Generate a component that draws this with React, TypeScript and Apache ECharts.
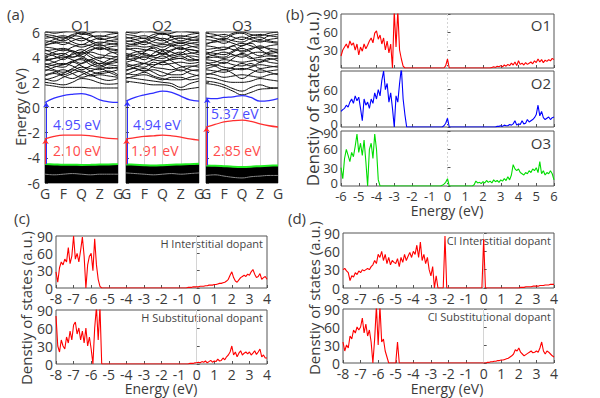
import React, { useEffect, useRef } from "react";
import * as echarts from "echarts";

// ---------- Panel (a): band structures ----------
const kLabels = ["G", "F", "Q", "Z", "G"];
const kPath = [0, 0.5, 1, 1.5, 2, 2.5, 3, 3.5, 4];

const bandsO1 = [
  [1.8, 1.7, 1.6, 1.6, 1.6, 1.55, 1.55, 1.55, 1.55],
  [2.0, 1.9, 1.8, 2.0, 2.3, 2.2, 1.95, 1.85, 1.9],
  [2.3, 2.1, 2.4, 2.7, 2.9, 2.6, 2.3, 2.15, 2.3],
  [2.6, 2.8, 3.0, 2.7, 2.4, 2.6, 2.8, 2.9, 2.6],
  [3.0, 2.9, 2.6, 2.9, 3.2, 3.1, 3.0, 3.2, 3.1],
  [3.2, 3.4, 3.5, 3.3, 3.0, 3.3, 3.5, 3.4, 3.3],
  [3.5, 3.3, 3.2, 3.6, 3.9, 3.6, 3.3, 3.6, 3.7],
  [3.8, 3.9, 4.0, 3.8, 3.5, 3.8, 4.0, 3.9, 3.8],
  [4.0, 4.2, 4.3, 4.0, 4.2, 4.4, 4.2, 4.1, 4.0],
  [4.3, 4.1, 3.8, 4.3, 4.6, 4.2, 3.9, 4.3, 4.4],
  [4.5, 4.6, 4.7, 4.5, 4.3, 4.6, 4.7, 4.6, 4.5],
  [4.8, 4.7, 4.5, 4.8, 5.0, 4.9, 4.6, 4.8, 4.9],
  [5.0, 5.1, 5.2, 5.0, 4.8, 5.0, 5.2, 5.1, 5.0],
  [5.3, 5.2, 5.0, 5.3, 5.5, 5.3, 5.1, 5.3, 5.4],
  [5.5, 5.6, 5.7, 5.5, 5.3, 5.6, 5.7, 5.6, 5.5],
  [5.8, 5.7, 5.5, 5.8, 5.9, 5.7, 5.6, 5.8, 5.9],
  [6.1, 5.9, 6.0, 6.1, 5.8, 5.9, 6.1, 6.0, 5.9],
  [2.9, 3.2, 3.4, 3.6, 3.3, 2.9, 2.7, 2.8, 3.0],
  [4.1, 4.4, 4.6, 4.4, 4.0, 4.5, 4.8, 4.5, 4.2],
  [3.4, 3.6, 3.9, 4.2, 4.4, 4.0, 3.7, 3.5, 3.6],
  [2.5, 2.7, 2.5, 2.3, 2.6, 2.9, 3.1, 2.8, 2.5],
  [3.3, 3.0, 2.8, 3.1, 3.5, 3.8, 3.4, 3.1, 3.2],
  [3.7, 3.9, 4.2, 4.5, 4.1, 3.7, 3.5, 3.8, 4.1],
  [4.6, 4.3, 4.1, 4.0, 4.4, 4.8, 5.0, 4.7, 4.6],
  [5.1, 5.4, 5.6, 5.2, 5.0, 5.3, 5.5, 5.3, 5.2],
  [5.7, 5.5, 5.3, 5.6, 6.0, 5.8, 5.4, 5.5, 5.7],
  [4.9, 5.2, 5.4, 5.7, 5.6, 5.2, 4.9, 5.0, 5.1],
  [3.9, 3.6, 3.4, 3.7, 3.8, 3.4, 3.2, 3.5, 3.9],
  [2.2, 2.4, 2.7, 3.0, 2.8, 2.5, 2.6, 2.5, 2.4],
];
const bandsO2 = [
  [2.1, 2.0, 1.9, 1.8, 1.8, 1.7, 1.4, 1.5, 1.6],
  [2.4, 2.3, 2.2, 2.1, 2.0, 1.9, 1.6, 1.9, 2.1],
  [2.7, 2.6, 2.8, 2.5, 2.3, 2.2, 2.2, 2.4, 2.6],
  [3.0, 3.1, 2.9, 3.0, 2.8, 2.6, 2.6, 2.9, 3.0],
  [3.2, 3.4, 3.5, 3.2, 3.1, 3.0, 3.2, 3.3, 3.2],
  [3.5, 3.3, 3.2, 3.6, 3.4, 3.5, 3.6, 3.5, 3.6],
  [3.8, 3.9, 4.0, 3.8, 3.7, 3.8, 3.9, 3.7, 3.8],
  [4.0, 4.2, 4.3, 4.1, 4.3, 4.0, 3.9, 4.1, 4.0],
  [4.3, 4.1, 3.8, 4.3, 4.6, 4.4, 4.2, 4.3, 4.4],
  [4.6, 4.7, 4.6, 4.5, 4.3, 4.6, 4.7, 4.6, 4.5],
  [4.8, 4.9, 4.8, 4.9, 5.0, 4.9, 4.6, 4.8, 4.9],
  [5.1, 5.0, 5.2, 5.0, 4.8, 5.1, 5.2, 5.1, 5.0],
  [5.3, 5.2, 5.0, 5.3, 5.5, 5.3, 5.1, 5.3, 5.4],
  [5.5, 5.6, 5.7, 5.5, 5.3, 5.6, 5.7, 5.6, 5.5],
  [5.8, 5.7, 5.5, 5.8, 5.9, 5.7, 5.6, 5.8, 5.9],
  [6.0, 5.9, 6.1, 6.0, 5.8, 5.9, 6.1, 6.0, 5.9],
  [2.9, 3.2, 3.5, 3.8, 4.1, 3.7, 3.3, 3.0, 2.9],
  [4.1, 4.4, 4.5, 4.7, 4.2, 4.5, 4.8, 4.4, 4.2],
  [3.6, 3.8, 4.1, 4.0, 3.9, 4.2, 4.4, 4.0, 3.7],
  [2.6, 2.9, 3.1, 2.8, 2.5, 2.8, 3.0, 2.7, 2.5],
  [3.4, 3.1, 2.9, 3.3, 3.6, 3.3, 2.9, 3.2, 3.4],
  [4.2, 4.0, 4.4, 4.8, 4.5, 4.1, 4.3, 4.6, 4.4],
  [4.7, 4.5, 4.2, 4.1, 4.5, 4.9, 5.1, 4.9, 4.7],
  [5.2, 5.4, 5.5, 5.2, 5.1, 5.4, 5.5, 5.4, 5.3],
  [5.6, 5.4, 5.2, 5.6, 5.9, 5.6, 5.3, 5.5, 5.7],
  [3.9, 3.7, 3.5, 3.4, 3.6, 3.9, 4.1, 3.8, 3.8],
  [2.3, 2.5, 2.6, 2.4, 2.2, 2.4, 2.4, 2.2, 2.3],
  [4.9, 5.1, 5.3, 5.6, 5.4, 5.0, 4.9, 5.1, 5.2],
];
const bandsO3 = [
  [1.9, 1.8, 1.6, 1.3, 1.0, 1.2, 1.45, 1.5, 1.55],
  [2.1, 2.0, 1.8, 1.5, 1.3, 1.6, 1.8, 1.6, 1.55],
  [2.4, 2.3, 2.1, 2.0, 2.0, 2.1, 2.3, 2.2, 2.1],
  [2.7, 2.6, 2.4, 2.5, 2.6, 2.5, 2.4, 2.6, 2.7],
  [3.0, 2.9, 2.8, 3.0, 3.1, 3.0, 2.8, 2.9, 3.0],
  [3.3, 3.4, 3.2, 3.1, 3.0, 3.2, 3.4, 3.3, 3.2],
  [3.5, 3.6, 3.8, 3.7, 3.6, 3.7, 3.8, 3.6, 3.5],
  [3.8, 3.7, 3.5, 3.9, 4.3, 4.0, 3.6, 3.8, 3.9],
  [4.0, 4.2, 4.4, 4.2, 4.0, 4.3, 4.4, 4.2, 4.1],
  [4.3, 4.1, 4.0, 4.4, 4.7, 4.4, 4.1, 4.4, 4.5],
  [4.6, 4.7, 4.8, 4.6, 4.5, 4.7, 4.8, 4.7, 4.6],
  [4.9, 4.8, 4.6, 4.9, 5.1, 4.9, 4.7, 4.9, 5.0],
  [5.1, 5.2, 5.3, 5.1, 4.9, 5.2, 5.3, 5.2, 5.1],
  [5.4, 5.3, 5.1, 5.4, 5.6, 5.4, 5.2, 5.4, 5.5],
  [5.6, 5.7, 5.8, 5.6, 5.4, 5.7, 5.8, 5.7, 5.6],
  [5.9, 5.8, 5.6, 5.9, 6.0, 5.8, 5.7, 5.9, 6.0],
  [3.1, 3.3, 3.6, 3.4, 3.3, 3.5, 3.1, 3.2, 3.3],
  [4.2, 4.5, 4.6, 4.9, 4.4, 4.6, 4.9, 4.6, 4.3],
  [2.6, 2.8, 3.0, 2.7, 2.3, 2.7, 3.0, 2.8, 2.6],
  [3.6, 3.3, 3.0, 3.2, 3.5, 3.3, 3.6, 3.9, 3.7],
  [4.4, 4.3, 4.2, 4.5, 4.9, 5.1, 4.6, 4.3, 4.4],
  [5.0, 5.3, 5.5, 5.3, 5.2, 5.5, 5.6, 5.3, 5.2],
  [5.7, 5.5, 5.4, 5.8, 5.9, 5.6, 5.4, 5.7, 5.8],
  [3.9, 4.0, 3.9, 4.1, 4.2, 3.9, 4.0, 4.1, 4.0],
];
const vbmO1 = [-4.5, -4.52, -4.55, -4.55, -4.56, -4.55, -4.53, -4.52, -4.5];
const vbmO2 = [-4.52, -4.55, -4.58, -4.6, -4.58, -4.55, -4.52, -4.5, -4.48];
const vbmO3 = [-4.6, -4.62, -4.66, -4.7, -4.72, -4.7, -4.66, -4.63, -4.6];
const innerVbO1 = [-5.3, -5.35, -5.3, -5.25, -5.3, -5.35, -5.3, -5.3, -5.3];
const innerVbO2 = [-5.2, -5.25, -5.3, -5.35, -5.3, -5.25, -5.3, -5.25, -5.2];
const innerVbO3 = [-5.4, -5.35, -5.45, -5.55, -5.6, -5.5, -5.45, -5.4, -5.4];
const blueO1 = [0.4, 0.75, 0.95, 1.05, 1.1, 0.95, 0.6, 0.45, 0.4];
const blueO2 = [0.5, 0.8, 1.0, 1.15, 1.3, 1.2, 0.9, 0.6, 0.5];
const blueO3 = [0.75, 0.7, 0.8, 0.85, 0.95, 0.8, 0.5, 0.55, 0.7];
const redO1 = [-2.5, -2.3, -2.2, -2.2, -2.2, -2.25, -2.35, -2.45, -2.5];
const redO2 = [-2.5, -2.4, -2.3, -2.25, -2.2, -2.25, -2.35, -2.5, -2.6];
const redO3 = [-1.55, -1.35, -1.15, -1.05, -1.0, -1.1, -1.3, -1.45, -1.55];
const gapBlue = ["4.95 eV", "4.94 eV", "5.37 eV"];
const gapRed = ["2.10 eV", "1.91 eV", "2.85 eV"];
const structNames = ["O1", "O2", "O3"];

// ---------- Panel (b): DOS, E from -6 to 6 step 0.1 ----------
const dosO1 = [
  20, 30, 35, 40, 33, 45, 38, 42, 30, 40,
  22, 35, 28, 40, 32, 38, 45, 50, 42, 58,
  62, 48, 55, 40, 50, 30, 45, 25, 40, 0,
  95, 35, 95, 30, 15, 3, 0, 0, 0, 0,
  0, 0, 0, 0, 0, 0, 0, 0, 0, 0,
  0, 0, 0, 0, 0, 0, 0, 0, 0, 4,
  15, 0, 0, 0, 0, 0, 0, 0, 0, 0,
  0, 0, 0, 0, 0, 0, 0, 0, 0, 0,
  0, 0, 0, 0, 0, 1, 2, 1, 3, 2,
  4, 2, 5, 3, 6, 4, 8, 5, 10, 4,
  12, 6, 8, 5, 9, 6, 8, 10, 7, 12,
  9, 15, 10, 14, 9, 13, 11, 14, 12, 16,
  14,
];
const dosO2 = [
  25, 28, 30, 35, 32, 40, 45, 38, 50, 42,
  48, 30, 10, 45, 35, 40, 30, 45, 38, 55,
  45, 60, 50, 75, 90, 60, 70, 40, 55, 30,
  0, 50, 40, 70, 95, 45, 20, 0, 0, 0,
  0, 0, 0, 0, 0, 0, 0, 0, 0, 0,
  0, 0, 0, 0, 0, 0, 0, 0, 2, 6,
  14, 0, 0, 0, 0, 0, 0, 0, 0, 0,
  0, 0, 0, 0, 0, 0, 0, 0, 0, 0,
  0, 0, 0, 0, 0, 0, 0, 0, 1, 1,
  2, 1, 3, 2, 2, 4, 3, 5, 10, 3,
  5, 4, 10, 5, 6, 12, 8, 10, 12, 15,
  20, 35, 18, 25, 15, 12, 14, 16, 12, 15,
  16,
];
const dosO3 = [
  30, 12, 45, 60, 50, 40, 55, 48, 65, 85,
  55, 70, 50, 75, 40, 0, 60, 70, 45, 85,
  60, 10, 0, 0, 0, 0, 0, 0, 0, 0,
  0, 0, 0, 0, 0, 0, 0, 0, 0, 0,
  0, 0, 0, 0, 0, 0, 0, 0, 0, 0,
  0, 0, 0, 0, 0, 0, 0, 1, 3, 6,
  12, 0, 0, 0, 0, 0, 0, 0, 0, 0,
  0, 0, 0, 0, 0, 2, 8, 5, 6, 4,
  7, 5, 9, 6, 8, 5, 10, 7, 9, 6,
  10, 8, 12, 9, 15, 10, 18, 35, 28, 25,
  28, 22, 20, 18, 22, 20, 25, 22, 28, 25,
  30, 22, 40, 20, 25, 18, 22, 20, 25, 20,
  10,
];

// ---------- Panels (c), (d): DOS, E from -8 to 4 step 0.1 ----------
const dosHInt = [
  28, 10, 35, 45, 40, 50, 45, 70, 42, 55,
  90, 50, 60, 45, 65, 88, 55, 0, 40, 55,
  60, 30, 85, 40, 15, 3, 0, 0, 0, 0,
  0, 0, 0, 0, 0, 0, 0, 0, 0, 0,
  0, 0, 0, 0, 0, 0, 0, 0, 0, 0,
  0, 0, 0, 0, 0, 0, 0, 0, 0, 0,
  0, 0, 0, 0, 0, 0, 0, 0, 0, 0,
  0, 0, 0, 0, 0, 1, 1, 1, 2, 2,
  2, 2, 3, 3, 3, 4, 4, 5, 5, 5,
  6, 6, 7, 8, 8, 9, 10, 12, 15, 22,
  28, 18, 12, 10, 14, 18, 20, 22, 20, 24,
  22, 28, 32, 24, 18, 20, 25, 15, 18, 20,
  15,
];
const dosHSub = [
  80, 30, 20, 40, 30, 25, 45, 35, 55, 40,
  65, 70, 50, 60, 40, 55, 35, 60, 30, 45,
  25, 0, 60, 95, 40, 95, 0, 0, 0, 0,
  0, 0, 0, 0, 0, 0, 0, 0, 0, 0,
  0, 0, 0, 0, 0, 0, 0, 0, 0, 0,
  0, 0, 0, 0, 0, 0, 0, 0, 0, 0,
  0, 0, 0, 0, 0, 0, 0, 0, 0, 0,
  0, 0, 0, 0, 0, 0, 1, 1, 1, 2,
  2, 3, 2, 4, 3, 5, 2, 4, 6, 3,
  5, 4, 8, 5, 6, 10, 7, 12, 15, 20,
  30, 15, 20, 12, 18, 22, 15, 18, 20, 17,
  20, 15, 18, 22, 16, 20, 25, 12, 15, 10,
  10,
];
const dosClInt = [
  30, 32, 28, 25, 12, 20, 18, 25, 22, 28,
  25, 30, 28, 30, 32, 30, 35, 38, 45, 40,
  55, 50, 60, 45, 55, 40, 50, 38, 45, 42,
  40, 48, 35, 50, 42, 55, 45, 52, 58, 50,
  60, 55, 70, 50, 75, 45, 55, 40, 50, 30,
  20, 35, 0, 20, 0, 0, 0, 0, 85, 0,
  0, 0, 0, 0, 0, 0, 0, 0, 0, 0,
  0, 0, 0, 0, 0, 0, 0, 0, 0, 0,
  80, 0, 0, 0, 0, 0, 0, 0, 0, 0,
  0, 0, 0, 0, 0, 0, 0, 0, 0, 0,
  0, 1, 1, 1, 2, 2, 2, 2, 3, 3,
  3, 3, 4, 4, 4, 5, 5, 5, 6, 6,
  6,
];
const dosClSub = [
  35, 20, 30, 25, 45, 40, 55, 50, 60, 55,
  60, 75, 50, 65, 45, 55, 35, 0, 40, 95,
  30, 95, 35, 40, 20, 10, 0, 0, 0, 0,
  0, 35, 0, 0, 0, 0, 0, 0, 0, 0,
  0, 0, 0, 0, 0, 0, 0, 0, 0, 0,
  0, 0, 0, 0, 0, 0, 0, 0, 0, 0,
  0, 0, 0, 0, 0, 0, 0, 0, 0, 0,
  0, 0, 0, 0, 0, 0, 0, 0, 0, 0,
  0, 0, 1, 1, 2, 2, 3, 3, 4, 4,
  5, 5, 6, 7, 8, 10, 12, 15, 22, 20,
  25, 18, 15, 12, 14, 16, 18, 20, 17, 18,
  20, 18, 25, 35, 20, 15, 20, 18, 15, 12,
  10,
];
const dopantNames = ["H Interstitial dopant", "H Substitutional dopant", "Cl Interstitial dopant", "Cl Substitutional dopant"];

const FONT = '"Open Sans", Lato, sans-serif';
const TXT = "#3a3a3a";
const BLUE = "#2e2eff";
const RED = "#ff2e2e";

const toXY = (arr: number[], start: number) => arr.map((v, i) => [Math.round((start + i * 0.1) * 100) / 100, v]);

export default function App() {
  const ref = useRef<HTMLDivElement>(null);
  useEffect(() => {
    if (!ref.current) return;
    const chart = echarts.init(ref.current, null, { renderer: "svg" });

    const gridDefs = [
      { left: 45, top: 32, width: 73, height: 151 },
      { left: 126, top: 32, width: 73, height: 151 },
      { left: 206, top: 32, width: 72, height: 151 },
      { left: 341, top: 14, width: 213, height: 54 },
      { left: 341, top: 71, width: 213, height: 56 },
      { left: 341, top: 131, width: 213, height: 55 },
      { left: 56, top: 236, width: 211, height: 52 },
      { left: 56, top: 310, width: 211, height: 54 },
      { left: 343, top: 233, width: 211, height: 55 },
      { left: 343, top: 309, width: 211, height: 54 },
    ];
    const grid = gridDefs.map((g) => ({
      ...g,
      show: true,
      borderColor: "#555",
      borderWidth: 1,
      backgroundColor: "transparent",
      containLabel: false,
      outerBoundsMode: "none",
    }));

    const xAxis: any[] = [];
    const yAxis: any[] = [];
    for (let i = 0; i < 3; i++) {
      xAxis.push({
        type: "value", gridIndex: i, min: 0, max: 4, interval: 1,
        axisLine: { show: false }, axisTick: { show: false },
        axisLabel: { formatter: (v: number) => kLabels[v] ?? "", fontSize: 14, color: TXT, margin: 3, fontFamily: FONT },
        splitLine: { show: true, lineStyle: { color: "#c8c8c8", width: 0.8 } },
      });
      yAxis.push({
        type: "value", gridIndex: i, min: -6, max: 6, interval: 2,
        axisLine: { show: false },
        axisTick: { show: true, inside: true, length: 3, lineStyle: { color: "#555" } },
        axisLabel: { show: i === 0, fontSize: 14, color: TXT, margin: 5, fontFamily: FONT },
        splitLine: { show: false },
      });
    }
    const lab = { fontSize: 13, color: TXT, fontFamily: FONT };
    const rich = {
      lo12: { ...lab, padding: [0, 0, 11, 0] },
      lo8: { ...lab, padding: [0, 0, 7, 0] },
      hi14: { ...lab, padding: [13, 0, 0, 0] },
      hi4: { ...lab, padding: [4, 0, 0, 0] },
    };
    const loKey: Record<number, string> = { 3: "lo12", 4: "lo8", 5: "lo8" };
    const hiKey: Record<number, string> = { 4: "hi14", 5: "hi4" };
    for (let i = 3; i < 10; i++) {
      const isB = i < 6;
      const showX = i === 5 || i >= 6;
      xAxis.push({
        type: "value", gridIndex: i, min: isB ? -6 : -8, max: isB ? 6 : 4, interval: 1,
        axisLine: { show: false },
        axisTick: { show: true, inside: true, length: 3, lineStyle: { color: "#555" } },
        axisLabel: { show: showX, fontSize: isB ? 13 : 14, color: TXT, margin: 3, fontFamily: FONT },
        splitLine: { show: false },
      });
      yAxis.push({
        type: "value", gridIndex: i, min: 0, max: 90, interval: 30,
        axisLine: { show: false },
        axisTick: { show: true, inside: true, length: 3, lineStyle: { color: "#555" } },
        axisLabel: {
          fontSize: isB ? 13 : 14, color: TXT, margin: 3, fontFamily: FONT, rich,
          formatter: (v: number) =>
            v === 0 && loKey[i] ? `{${loKey[i]}|0}` : v === 90 && hiKey[i] ? `{${hiKey[i]}|90}` : String(v),
        },
        splitLine: { show: false },
      });
    }

    const series: any[] = [];
    const bandSets = [bandsO1, bandsO2, bandsO3];
    const vbms = [vbmO1, vbmO2, vbmO3];
    const inners = [innerVbO1, innerVbO2, innerVbO3];
    const blues = [blueO1, blueO2, blueO3];
    const reds = [redO1, redO2, redO3];
    const kxy = (vals: number[]) => kPath.map((k, i) => [k, vals[i]]);
    for (let j = 0; j < 3; j++) {
      bandSets[j].forEach((b) => {
        series.push({ type: "line", xAxisIndex: j, yAxisIndex: j, data: kxy(b), smooth: 0.4, showSymbol: false, silent: true, lineStyle: { color: "#111", width: 1 }, z: 2 });
      });
      series.push({
        type: "line", xAxisIndex: j, yAxisIndex: j, data: kxy(vbms[j]), smooth: 0.3, showSymbol: false, silent: true,
        lineStyle: { color: "#22ee22", width: 2 }, areaStyle: { color: "#000", opacity: 1, origin: "start" }, z: 3,
      });
      series.push({ type: "line", xAxisIndex: j, yAxisIndex: j, data: kxy(inners[j]), smooth: 0.4, showSymbol: false, silent: true, lineStyle: { color: "#888", width: 1 }, z: 4 });
      series.push({
        type: "line", xAxisIndex: j, yAxisIndex: j, data: kxy(blues[j]), smooth: 0.4, showSymbol: false, silent: true,
        lineStyle: { color: BLUE, width: 1.3 }, z: 5,
        markLine: {
          silent: true, symbol: ["none", "arrow"], symbolSize: 5, label: { show: false }, animation: false,
          lineStyle: { color: BLUE, width: 1, type: "solid" },
          data: [[{ coord: [0.07, vbms[j][0]] }, { coord: [0.07, blues[j][0]] }]],
        },
      });
      series.push({
        type: "line", xAxisIndex: j, yAxisIndex: j, data: kxy(reds[j]), smooth: 0.4, showSymbol: false, silent: true,
        lineStyle: { color: RED, width: 1.3 }, z: 5,
        markLine: {
          silent: true, symbol: ["none", "arrow"], symbolSize: 5, label: { show: false }, animation: false,
          lineStyle: { color: RED, width: 1, type: "solid" },
          data: [[{ coord: [0.03, vbms[j][0]] }, { coord: [0.03, reds[j][0]] }]],
        },
      });
      series.push({
        type: "line", xAxisIndex: j, yAxisIndex: j, data: [[0, 0], [4, 0]], showSymbol: false, silent: true,
        lineStyle: { color: "#333", width: 1.2, type: [3, 3] }, z: 5,
      });
    }
    const dosSets = [
      { d: dosO1, s: -6, c: "#ff0000", dash: true },
      { d: dosO2, s: -6, c: "#0000ff", dash: true },
      { d: dosO3, s: -6, c: "#00dd00", dash: true },
      { d: dosHInt, s: -8, c: "#ff0000", dash: false },
      { d: dosHSub, s: -8, c: "#ff0000", dash: false },
      { d: dosClInt, s: -8, c: "#ff0000", dash: false },
      { d: dosClSub, s: -8, c: "#ff0000", dash: false },
    ];
    dosSets.forEach((ds, n) => {
      const idx = n + 3;
      series.push({
        type: "line", xAxisIndex: idx, yAxisIndex: idx, data: toXY(ds.d, ds.s), showSymbol: false, silent: true,
        lineStyle: { color: ds.c, width: 1.1 }, clip: true, z: 3,
        markLine: {
          silent: true, symbol: "none", label: { show: false }, animation: false, z: 1,
          lineStyle: { color: "#d4d4d4", width: 1, type: ds.dash ? [2, 2] : "solid" },
          data: [{ xAxis: 0 }],
        },
      });
    });

    const t = (text: string, x: number, y: number, size: number, fill = TXT, align = "left", rotation = 0) => ({
      type: "text", x, y, rotation, silent: true,
      style: { text, fontSize: size, fontFamily: FONT, fill, align, verticalAlign: "middle", textAlign: align, textVerticalAlign: "middle" },
    });
    const graphic: any[] = [
      t("(a)", 7, 14, 15),
      t("(b)", 286, 14, 15),
      t("(c)", 14, 218, 15),
      t("(d)", 288, 218, 15),
      t(structNames[0], 81, 25, 15, TXT, "center"),
      t(structNames[1], 162, 25, 15, TXT, "center"),
      t(structNames[2], 242, 25, 15, TXT, "center"),
      t("Energy (eV)", 20, 107, 15, TXT, "center", Math.PI / 2),
      t(gapBlue[0], 53, 124, 14, "#4b4bff"),
      t(gapRed[0], 53, 150, 14, "#ff4b4b"),
      t(gapBlue[1], 133, 124, 14, "#4b4bff"),
      t(gapRed[1], 131, 150, 14, "#ff4b4b"),
      t(gapBlue[2], 211, 113, 14, "#4b4bff"),
      t(gapRed[2], 213, 150, 14, "#ff4b4b"),
      t(structNames[0], 551, 25, 15, TXT, "right"),
      t(structNames[1], 551, 83, 15, TXT, "right"),
      t(structNames[2], 551, 143, 15, TXT, "right"),
      t("Denstiy of states (a.u.)", 312, 99, 17, TXT, "center", Math.PI / 2),
      t("Energy (eV)", 447, 210, 14, TXT, "center"),
      t(dopantNames[0], 263, 243, 11, "#444", "right"),
      t(dopantNames[1], 263, 317, 11, "#444", "right"),
      t(dopantNames[2], 551, 240, 11, "#444", "right"),
      t(dopantNames[3], 551, 316, 11, "#444", "right"),
      t("Denstiy of states (a.u.)", 26, 308, 15, TXT, "center", Math.PI / 2),
      t("Energy (eV)", 161, 388, 14, TXT, "center"),
      t("Denstiy of states (a.u.)", 314, 298, 15, TXT, "center", Math.PI / 2),
      t("Energy (eV)", 447, 388, 14, TXT, "center"),
    ];

    chart.setOption({
      animation: false,
      backgroundColor: "#fff",
      textStyle: { fontFamily: FONT },
      grid, xAxis, yAxis, series, graphic,
    });
    return () => chart.dispose();
  }, []);
  return <div ref={ref} style={{ position: "fixed", left: 0, top: 0, width: 600, height: 398 }} />;
}
